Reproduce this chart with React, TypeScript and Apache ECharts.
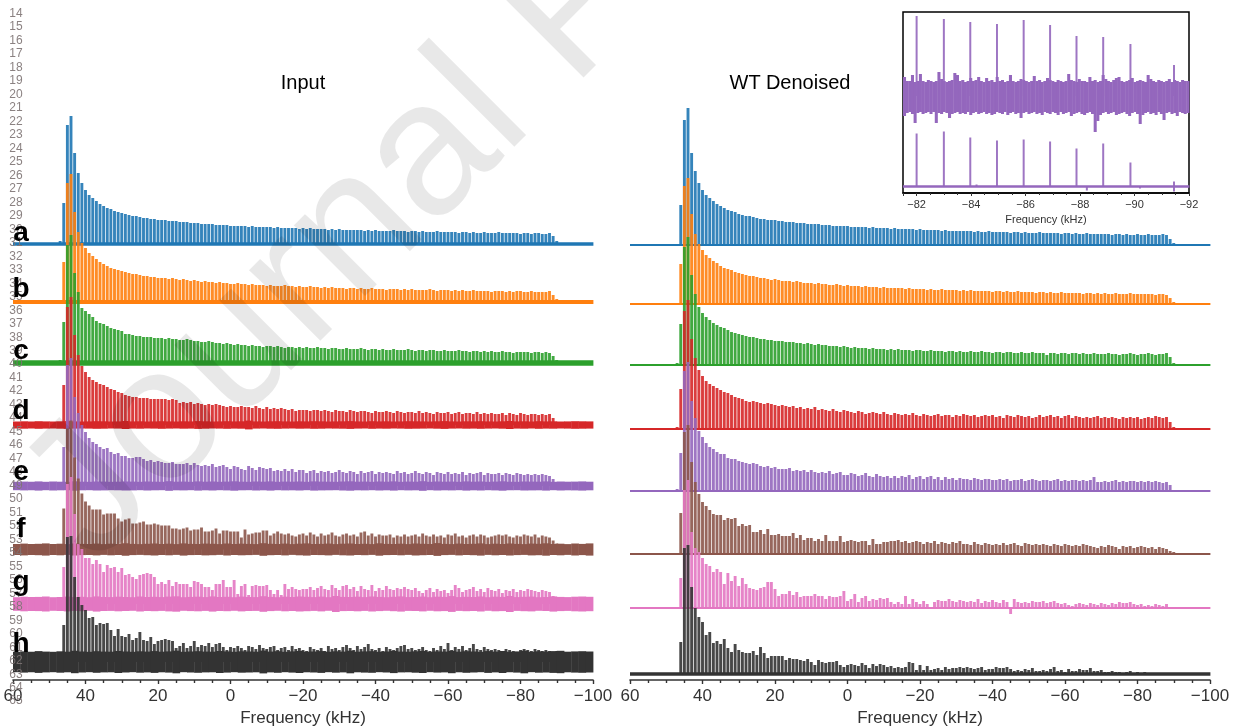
import React, { useEffect, useRef } from "react";
import * as echarts from "echarts";

const FONT = "Liberation Sans";
const colors = ["#1f77b4", "#ff7f0e", "#2ca02c", "#d62728", "#9467bd", "#8c564b", "#e377c2", "#333333"];
const panelLetters = ["a", "b", "c", "d", "e", "f", "g", "h"];
const letterRows = [231, 287, 349, 409, 470, 527, 580, 642];
const sourceLines = [14,15,16,17,18,19,20,21,22,23,24,25,26,27,28,29,30,31,32,33,34,35,36,37,38,39,40,41,42,43,44,45,46,47,48,49,50,51,52,53,54,55,56,57,58,59,60,61,62,63,64,65];

// Stack offsets of the spectra (a..h)
const inputOffsets = [436, 378, 317, 255, 194, 130.5, 76, 18];
const denoisedOffsets = [435, 376, 315, 251, 189, 126, 72, 6];

// Comb line frequencies: 47 kHz down to -90 kHz, 1 kHz apart
const combFreqs = Array.from({ length: 138 }, (_, i) => 47 - i);

const inputA = [3,41,119,128,91,71,61,54,49,46,
43,40,38,36,35,33,32,31,30,29,
28,28,27,26,26,25,25,24,24,24,
23,23,23,22,22,22,21,21,21,20,
20,20,20,19,19,19,19,18,18,18,
18,18,17,18,17,17,17,17,17,16,
17,16,16,16,16,16,15,16,15,16,
15,15,15,15,14,15,14,15,14,14,
14,14,14,14,13,14,13,14,13,13,
13,13,14,13,13,13,12,13,13,12,
13,12,12,12,13,12,12,12,12,12,
11,12,12,11,12,11,11,12,11,11,
11,12,11,11,11,11,11,10,11,11,
10,11,11,10,10,11,8,3];
const inputB = [2,40,119,128,90,70,59,54,49,46,
43,40,38,36,34,33,32,31,30,29,
28,28,27,26,26,25,25,24,24,24,
23,24,23,22,23,22,21,22,21,20,
21,20,20,19,20,19,19,18,18,19,
18,18,17,18,17,17,17,16,17,16,
16,16,17,16,16,15,16,15,15,16,
15,15,14,15,14,15,14,14,14,13,
14,14,13,14,13,13,14,13,13,13,
12,13,13,13,12,13,12,13,12,12,
12,12,13,12,11,12,12,12,11,12,
11,12,11,11,12,11,11,11,11,10,
11,11,11,10,11,10,11,11,10,10,
11,10,10,10,10,11,7,3];
const inputC = [3,41,118,128,90,71,55,52,49,46,
42,40,39,37,35,34,33,32,29,29,
28,27,27,26,26,26,25,25,25,24,
25,24,24,23,23,24,23,22,22,21,
21,22,21,20,20,19,20,19,18,19,
18,18,17,18,17,17,16,17,17,16,
17,16,15,16,16,15,16,15,16,15,
15,16,15,15,14,15,15,14,14,15,
14,14,14,15,14,13,14,14,13,14,
13,13,14,13,13,13,14,13,12,13,
13,12,13,13,12,12,13,12,12,12,
13,12,12,11,12,12,11,12,11,12,
11,11,12,11,11,10,11,11,11,11,
10,11,11,10,11,10,7,3];
const inputD = [3,40,118,128,90,70,59,53,48,45,
43,41,40,38,36,35,33,32,30,29,
28,28,27,27,27,26,26,26,26,26,
25,26,25,22,23,22,23,21,22,21,
20,21,20,21,20,19,18,19,18,18,
19,18,18,17,19,17,16,18,16,17,
16,17,16,15,16,14,15,15,15,14,
15,15,14,15,14,13,15,14,14,13,
15,14,13,14,14,13,12,14,13,13,
14,13,12,14,13,12,13,13,12,14,
12,13,12,11,13,12,12,13,11,12,
13,11,12,12,11,13,11,12,11,12,
11,11,12,10,12,11,10,12,11,10,
11,11,10,11,10,11,7,3];
const inputE = [3,39,121,128,89,73,61,54,48,44,
42,39,37,38,34,32,33,30,30,28,
28,29,29,27,25,26,24,25,24,23,
23,24,22,22,22,23,21,23,21,20,
21,20,22,19,20,21,19,17,20,19,
17,16,20,18,16,19,18,17,18,15,
16,15,17,15,17,14,16,16,13,15,
16,13,15,14,15,13,14,16,14,13,
15,14,12,15,13,14,15,12,14,13,
14,13,12,15,13,14,12,13,15,13,
12,14,13,11,14,13,12,14,12,13,
12,14,11,13,12,13,14,11,13,12,
12,13,11,13,12,11,13,12,11,12,
11,12,11,12,11,10,7,4];
const inputF = [3,41,121,129,92,71,56,48,44,40,
40,40,35,36,36,36,31,28,30,31,
26,26,27,28,25,25,26,25,24,24,
24,21,21,20,21,22,19,20,20,22,
18,18,19,21,16,19,19,18,18,18,
12,20,15,16,17,17,19,19,14,16,
18,16,15,16,14,13,15,16,14,17,
15,13,16,14,15,17,14,13,15,16,
14,15,13,17,18,14,16,13,15,14,
14,15,12,14,13,15,13,14,15,13,
16,14,13,15,13,14,12,15,14,16,
13,14,12,14,15,13,15,14,12,13,
14,15,14,15,13,12,14,13,15,14,
13,15,12,14,13,12,9,6];
const inputG = [2,37,120,127,90,60,55,46,46,40,
44,40,32,39,36,37,32,36,29,30,
27,25,29,30,31,30,27,20,22,20,
24,18,22,20,20,20,17,23,22,20,
17,17,14,20,20,24,17,17,24,10,
18,20,9,18,19,18,18,19,14,10,
14,9,20,15,17,15,14,15,15,17,
14,16,18,15,14,19,16,14,18,19,
15,17,13,18,15,14,19,13,16,14,
18,15,14,16,15,17,15,14,16,13,
11,14,16,12,15,13,14,11,14,19,
16,12,14,15,17,13,15,12,16,14,
13,15,11,14,13,15,12,14,13,15,
14,13,12,14,13,12,8,7];
const inputH = [3,37,125,126,85,65,57,52,44,45,
37,39,38,39,32,26,33,26,25,28,
22,24,30,22,21,25,18,21,22,23,
22,21,14,16,19,14,16,21,15,17,
16,19,15,18,19,15,12,15,14,16,
14,12,16,15,13,17,14,13,15,16,
12,14,15,12,16,13,14,12,11,15,
13,12,14,11,16,13,14,12,15,17,
14,12,16,13,15,18,13,12,14,11,
15,13,12,14,16,17,13,14,12,13,
15,12,11,14,12,16,13,19,12,15,
13,16,12,14,18,13,12,15,13,12,
13,12,11,13,12,11,10,12,13,12,
11,13,12,11,12,11,10,11];

const denoisedA = [1,40,125,137,92,74,62,55,50,47,
44,41,39,37,35,34,33,31,30,29,
29,28,27,26,26,25,25,25,24,24,
23,23,23,22,22,22,21,21,21,21,
20,20,20,19,19,19,19,19,18,18,
18,18,18,17,18,17,17,17,17,16,
17,16,16,16,16,16,15,16,15,15,
15,15,15,14,15,14,14,14,14,14,
14,14,13,14,13,13,14,13,13,13,
13,13,12,13,13,12,13,12,12,12,
13,12,12,12,12,12,11,12,12,11,
12,11,11,12,11,11,11,11,11,11,
10,11,11,10,11,10,10,11,10,10,
11,10,10,10,11,10,6,2];
const denoisedB = [1,40,118,126,90,70,60,54,49,46,
43,41,38,36,35,34,32,31,30,29,
28,28,27,26,26,25,24,25,24,23,
23,23,22,23,22,21,21,21,20,21,
20,20,19,19,20,19,18,19,18,18,
18,17,18,17,17,17,16,17,16,16,
16,16,16,15,16,15,15,15,15,14,
15,14,14,15,14,14,14,14,13,14,
13,14,13,13,13,13,13,12,13,13,
12,13,12,12,13,12,12,12,12,11,
12,12,11,12,11,11,12,11,11,11,
11,11,10,11,11,10,11,10,11,10,
10,11,10,10,10,11,10,10,10,10,
10,10,9,10,10,9,6,2];
const denoisedC = [2,41,118,128,90,71,58,52,48,45,
42,40,38,37,35,33,32,31,30,29,
28,28,27,26,26,25,25,24,24,24,
23,23,23,22,22,21,22,21,20,21,
20,20,19,19,19,18,19,18,17,18,
17,17,17,16,17,16,16,16,15,16,
15,16,15,15,15,14,15,15,14,14,
15,14,14,14,13,14,14,13,14,13,
13,14,13,13,14,13,13,12,13,13,
12,13,13,12,12,13,12,12,13,12,
12,12,10,12,12,11,12,12,11,12,
12,11,12,11,11,12,11,11,11,12,
11,11,10,11,11,12,11,10,11,11,
12,11,10,11,11,12,8,2];
const denoisedD = [2,40,118,129,90,71,59,53,48,45,
43,41,39,37,36,34,32,31,30,28,
27,28,27,26,25,26,25,24,23,24,
23,22,23,21,22,20,21,20,22,19,
20,19,18,20,18,17,19,18,17,16,
18,17,15,16,17,16,15,17,15,14,
16,15,14,15,14,16,14,13,15,14,
13,14,15,13,14,14,12,14,13,15,
14,13,14,12,13,14,13,14,12,13,
11,14,13,12,14,13,12,13,11,12,
14,12,13,14,12,13,11,13,14,11,
13,12,11,12,11,12,13,11,12,11,
12,11,10,12,11,12,11,12,10,11,
12,11,13,12,11,12,7,2];
const denoisedE = [2,38,120,129,90,73,60,54,48,44,
42,39,37,37,33,32,32,30,29,28,
27,28,27,25,24,25,23,24,22,22,
22,23,20,21,20,21,19,21,19,18,
19,18,20,17,18,19,16,16,18,17,
15,16,18,15,14,17,15,14,15,13,
15,13,15,14,16,12,14,15,12,14,
15,12,14,11,14,12,13,11,13,12,
12,11,13,12,11,12,12,11,11,12,
11,12,10,11,11,12,10,11,12,11,
10,11,11,10,11,12,10,11,10,11,
11,10,11,10,11,14,9,9,10,9,
10,11,9,10,9,10,10,9,10,9,
10,9,10,9,8,9,6,1];
const denoisedF = [1,41,122,129,92,72,60,52,48,44,
40,39,39,34,36,35,36,28,30,28,
29,22,22,24,20,25,19,19,20,18,
18,18,21,16,19,14,16,16,13,15,
13,19,13,13,13,18,12,13,14,13,
12,13,13,9,15,10,10,12,12,13,
13,14,12,13,11,12,13,12,10,12,
11,13,10,12,11,10,12,11,13,10,
10,9,12,10,9,11,10,9,10,9,
11,9,10,11,9,8,11,10,9,10,
9,10,9,8,10,9,8,10,9,8,
9,8,10,9,8,7,6,8,7,9,
8,7,5,8,7,8,6,7,8,7,
6,7,5,7,6,5,3,2];
const denoisedG = [1,30,118,128,76,60,56,50,44,42,
36,39,36,24,35,27,32,22,30,24,
20,19,18,20,21,26,26,19,12,14,
14,17,13,16,11,12,12,12,14,12,
12,9,12,11,11,12,17,7,9,14,
6,10,12,7,9,8,10,9,10,6,
4,6,4,12,4,9,6,4,7,4,
1,6,8,7,7,9,7,6,8,7,
6,7,6,9,5,7,6,8,6,5,
8,6,-6,9,6,5,6,5,7,6,
6,7,5,6,7,5,4,5,3,2,
4,5,4,3,5,4,3,5,4,3,
5,4,6,5,5,6,4,3,4,2,
3,2,4,3,2,4,1,1];
const denoisedH = [1,32,126,129,87,66,57,52,39,42,
31,33,30,35,26,22,30,24,22,21,
21,23,19,27,21,16,18,18,18,18,
14,16,15,15,14,13,15,12,9,14,
12,11,12,12,13,9,7,9,10,9,
8,11,9,6,10,8,10,9,7,8,
6,7,6,7,12,11,4,9,4,8,
4,5,6,4,7,5,6,6,7,6,
7,6,5,6,7,4,5,5,7,6,
6,7,5,3,4,3,5,4,6,3,
3,4,3,5,7,3,4,2,5,3,
3,5,4,4,6,3,3,4,2,2,
3,2,2,1,2,3,1,2,1,2,
1,1,1,1,1,1,1,1];

// Half thickness of the noise floor across the 160 kHz span
const inputNoiseA = [1.7];
const inputNoiseB = [1.9];
const inputNoiseC = [2.7];
const inputNoiseD = [3.5,3.7,3.6,3.8,3.6,3.5,3.7,3.9,3.6,3.5,3.6,3.8,3.7,3.5,3.6,3.9,3.6,3.7,3.5,3.6,
3.8,3.6,3.5,3.7,3.6,3.9,3.7,3.5,3.6,3.8,3.6,3.7,4.4,3.6,3.5,3.7,3.8,3.6,3.5,3.7,
3.6,3.8,3.7,3.5,3.6,3.7,3.9,3.6,3.5,3.8,3.6,3.7,3.5,3.6,3.8,3.7,3.6,3.5,3.7,3.9,
3.6,3.5,3.7,3.6,3.8,3.6,3.5,3.7,3.9,3.6,3.7,3.5,3.8,3.6,3.7,3.5,3.6,3.8,3.7,3.6];
const inputNoiseE = [4.2,4.4,4.3,4.6,4.2,4.5,4.3,4.2,4.7,4.3,4.2,4.5,4.4,4.2,4.3,4.6,4.4,4.2,4.5,4.3,
4.2,4.8,4.3,4.4,4.2,4.6,4.3,4.5,4.2,4.4,4.7,4.3,4.2,4.5,4.3,4.6,4.2,4.4,4.3,4.5,
4.2,4.6,4.4,4.3,4.2,4.5,4.7,4.3,4.4,4.2,4.5,4.3,4.6,4.2,4.4,4.3,4.8,4.2,4.5,4.3,
4.4,4.2,4.6,4.3,4.5,4.2,4.4,4.7,4.3,4.2,4.5,4.4,4.3,4.6,4.2,4.5,4.3,4.4,4.6,4.3];
const inputNoiseF = [5.5,5.9,5.4,5.7,6.1,5.5,5.8,5.4,6.0,5.6,5.5,5.9,5.4,5.8,5.5,6.2,5.6,5.4,5.7,6.0,
5.5,5.8,5.4,6.1,5.6,5.5,5.9,5.7,5.4,6.0,5.5,5.8,5.6,5.4,6.3,5.7,5.5,5.9,5.4,5.8,
6.1,5.5,5.6,5.9,5.4,5.8,6.0,5.5,5.7,5.4,6.2,5.6,5.5,5.8,5.4,6.0,5.7,5.5,6.4,5.6,
5.4,5.9,5.5,5.7,6.1,5.4,5.8,5.5,6.0,5.6,5.4,5.9,5.7,6.2,5.5,5.8,5.4,6.0,5.6,6.1];
const inputNoiseG = [6.8,7.3,6.9,7.1,7.5,6.8,7.0,7.4,6.9,7.2,6.8,7.6,7.0,6.9,7.3,7.1,6.8,7.5,7.0,7.2,
6.9,7.4,7.7,6.8,7.1,7.3,6.9,7.6,7.0,7.2,6.8,7.4,7.0,6.9,7.8,7.1,6.8,7.3,7.0,7.5,
7.2,6.9,7.4,6.8,8.0,7.1,7.0,7.3,6.9,7.5,7.1,6.8,7.2,7.6,6.9,7.0,7.4,6.8,7.3,7.1,
7.9,6.9,7.2,7.0,7.5,6.8,7.3,7.1,8.0,6.9,7.2,7.4,6.8,7.0,7.6,7.1,6.9,7.3,7.5,7.2];
const inputNoiseH = [10.2,10.6,10.3,10.9,10.4,10.2,10.7,10.3,11.2,10.5,10.2,10.8,10.4,10.3,11.0,10.5,10.2,10.7,10.4,10.9,
10.3,10.6,11.3,10.2,10.5,10.8,10.4,10.3,11.0,10.6,10.2,10.7,10.5,10.3,11.4,10.4,10.8,10.2,10.6,11.0,
10.3,10.5,10.9,10.2,10.7,10.4,11.3,10.3,10.6,10.8,10.2,10.5,11.1,10.4,10.3,10.7,11.0,10.2,10.6,10.4,
11.2,10.3,10.8,10.5,10.2,10.9,10.4,11.0,10.3,10.6,11.3,10.2,10.7,10.5,10.9,11.2,10.3,10.6,10.8,10.5];
const denoisedNoise = [0.9, 0.9, 0.9, 0.9, 0.9, 1.1, 0.9, 1.7];

// Inset (comb near -82..-92 kHz of spectrum e)
const insetInputFreqs = [-82,-83,-83.97,-84.95,-85.93,-86.9,-87.87,-88.85,-89.85,-91.45];
const insetInputPeaks = [80,77,74,72,76,71,60,59,52,31];
const insetDenoisedFreqs = [-82,-83,-83.97,-84.95,-85.93,-86.9,-87.87,-88.85,-89.85,-91.45,-91.45,-88.25,-84.2,-90.2];
const insetDenoisedPeaks = [53,55,49,46,47,45,38,43,24,5,-5,-4,2,-2];
const insetNoiseUp = [19,15,15,21,14,15,22,15,14,16,15,14,15,24,17,15,14,15,16,23,21,15,16,14,15,18,15,16,19,15,14,18,15,16,14,19,15,16,14,15,21,15,14,15,17,16,15,14,15,20,15,16,14,15,
18,16,15,14,16,15,14,15,22,16,15,14,17,15,15,14,19,15,16,14,15,21,17,15,14,16,18,19,15,14,15,16,18,14,15,16,15,14,21,17,15,14,16,15,14,15,17,14,16,15,14,16,15,15];
const insetNoiseDown = [20,17,16,18,27,17,16,18,17,16,18,16,27,17,18,16,17,22,18,17,16,18,17,18,16,19,17,16,18,17,16,18,17,19,18,16,17,18,16,19,17,16,18,17,22,17,16,18,17,16,18,17,19,16,
17,18,16,17,19,16,18,17,16,20,18,17,16,18,19,17,16,18,36,25,19,17,16,18,17,16,19,18,17,16,18,20,17,16,18,28,19,17,16,18,17,19,16,18,24,17,16,18,17,20,16,17,18,17];
const insetDenoisedNoise = [1.2];

const xLabel = "Frequency (kHz)";
const minusLabel = (v: number) => (v < 0 ? "\u2212" + Math.abs(v) : String(v));

function spikes(name: string, freqs: number[], amps: number[], base: number, color: string, axis: number, width: number, opacity: number) {
  return {
    type: "custom", name, silent: true, xAxisIndex: axis, yAxisIndex: axis, z: 2,
    data: freqs.map((f, i) => [f, amps[i]]),
    encode: { x: 0, y: 1 },
    renderItem: (_: any, api: any) => {
      const a = api.coord([api.value(0), base]);
      const b = api.coord([api.value(0), base + api.value(1)]);
      return { type: "line", shape: { x1: a[0], y1: a[1], x2: b[0], y2: b[1] }, style: { stroke: color, lineWidth: width, opacity } };
    },
  };
}

function noise(name: string, up: number[], down: number[], from: number, to: number, base: number, color: string, axis: number) {
  const step = (to - from) / up.length;
  return {
    type: "custom", name, silent: true, xAxisIndex: axis, yAxisIndex: axis, z: 2,
    data: up.map((u, i) => [from + step * i, from + step * (i + 1), u, down[i]]),
    encode: { x: 0, y: 2 },
    renderItem: (_: any, api: any) => {
      const a = api.coord([api.value(0), base + api.value(2)]);
      const b = api.coord([api.value(1), base - api.value(3)]);
      return { type: "rect", shape: { x: a[0], y: a[1], width: b[0] - a[0] + 0.4, height: b[1] - a[1] }, style: { fill: color } };
    },
  };
}

function mainAxis(index: number) {
  return {
    type: "value", gridIndex: index, min: -100, max: 60, inverse: true, interval: 20,
    name: xLabel, nameLocation: "middle", nameGap: 24,
    nameTextStyle: { fontFamily: FONT, fontSize: 17, color: "#333" },
    axisLine: { show: true, onZero: false, lineStyle: { color: "#333", width: 1.6 } },
    axisTick: { show: true, length: 4, lineStyle: { color: "#333", width: 1.4 } },
    minorTick: { show: true, splitNumber: 4, length: 3, lineStyle: { color: "#333", width: 1.4 } },
    splitLine: { show: false },
    axisLabel: { fontFamily: FONT, fontSize: 17, color: "#333", margin: 7, formatter: minusLabel, showMinLabel: true, showMaxLabel: true, hideOverlap: false },
  };
}

export default function App() {
  const ref = useRef<HTMLDivElement>(null);
  useEffect(() => {
    const chart = echarts.init(ref.current!, null, { renderer: "svg" });
    const inputs = [inputA, inputB, inputC, inputD, inputE, inputF, inputG, inputH];
    const denoised = [denoisedA, denoisedB, denoisedC, denoisedD, denoisedE, denoisedF, denoisedG, denoisedH];
    const inputNoises = [inputNoiseA, inputNoiseB, inputNoiseC, inputNoiseD, inputNoiseE, inputNoiseF, inputNoiseG, inputNoiseH];
    const series: any[] = [];
    colors.forEach((c, i) => {
      series.push(spikes("Input " + panelLetters[i], combFreqs, inputs[i], inputOffsets[i], c, 0, 2.9, 0.9));
      series.push(noise("Input noise " + panelLetters[i], inputNoises[i], inputNoises[i], 60, -100, inputOffsets[i], c, 0));
    });
    colors.forEach((c, i) => {
      series.push(spikes("WT " + panelLetters[i], combFreqs, denoised[i], denoisedOffsets[i], c, 1, 2.9, 0.9));
      series.push(noise("WT noise " + panelLetters[i], [denoisedNoise[i]], [denoisedNoise[i]], 60, -100, denoisedOffsets[i], c, 1));
    });
    series.push(spikes("Inset input", insetInputFreqs, insetInputPeaks, 97, colors[4], 2, 2, 0.9));
    series.push(noise("Inset input noise", insetNoiseUp, insetNoiseDown, -81.5, -92, 97, colors[4], 2));
    series.push(spikes("Inset WT", insetDenoisedFreqs, insetDenoisedPeaks, 6.5, colors[4], 2, 2, 0.9));
    series.push(noise("Inset WT noise", insetDenoisedNoise, insetDenoisedNoise, -81.5, -92, 6.5, colors[4], 2));

    const yAxis = (i: number, max: number) => ({ type: "value", gridIndex: i, min: 0, max, show: false });
    const graphicEls: any[] = [
      {
        type: "text", x: 115, y: 587, rotation: Math.PI / 4, z: 50, silent: true,
        style: { text: "Journal P", fontFamily: FONT, fontSize: 190, fill: "rgba(0,0,0,0.09)", textAlign: "left", textVerticalAlign: "bottom" },
      },
      ...sourceLines.map((n, i) => ({
        type: "text", x: 16, y: 13 + i * 13.48, z: 60, silent: true,
        style: { text: String(n), fontFamily: FONT, fontSize: 12, fill: "rgba(125,115,115,0.9)", textAlign: "center", textVerticalAlign: "middle" },
      })),
      ...panelLetters.map((l, i) => ({
        type: "text", x: 21, y: letterRows[i], z: 70, silent: true,
        style: { text: l, fontFamily: FONT, fontWeight: "bold", fontSize: 28, fill: "#000", textAlign: "center", textVerticalAlign: "middle" },
      })),
    ];

    chart.setOption({
      animation: false,
      backgroundColor: "#fff",
      title: [
        { text: "Input", left: 298, top: 67, textAlign: "center", textStyle: { fontFamily: FONT, fontSize: 20, fontWeight: "normal", color: "#000" } },
        { text: "WT Denoised", left: 785, top: 67, textAlign: "center", textStyle: { fontFamily: FONT, fontSize: 20, fontWeight: "normal", color: "#000" } },
      ],
      grid: [
        { left: 13, width: 580, top: 0, height: 680, outerBoundsMode: "none" },
        { left: 630, width: 580, top: 0, height: 680, outerBoundsMode: "none" },
        { left: 903, width: 286, top: 12, height: 181, outerBoundsMode: "none", show: true, backgroundColor: "#fff", borderColor: "#000", borderWidth: 1.5 },
      ],
      xAxis: [
        mainAxis(0),
        mainAxis(1),
        {
          type: "value", gridIndex: 2, min: -92, max: -81.5, inverse: true, interval: 2,
          name: xLabel, nameLocation: "middle", nameGap: 20,
          nameTextStyle: { fontFamily: FONT, fontSize: 11, color: "#333" },
          axisLine: { show: true, onZero: false, lineStyle: { color: "#000", width: 1.5 } },
          axisTick: { show: true, length: 3, lineStyle: { color: "#333" } },
          minorTick: { show: true, splitNumber: 4, length: 2, lineStyle: { color: "#333" } },
          splitLine: { show: false },
          axisLabel: { fontFamily: FONT, fontSize: 11, color: "#333", margin: 5, formatter: minusLabel, showMinLabel: true, hideOverlap: false },
        },
      ],
      yAxis: [yAxis(0, 680), yAxis(1, 680), yAxis(2, 181)],
      series,
      graphic: { elements: graphicEls },
    });
    return () => chart.dispose();
  }, []);
  return (
    <div
      ref={ref}
      style={{ position: "absolute", left: 0, top: 0, width: 1237, height: 728, filter: "blur(0.5px)" }}
    />
  );
}
